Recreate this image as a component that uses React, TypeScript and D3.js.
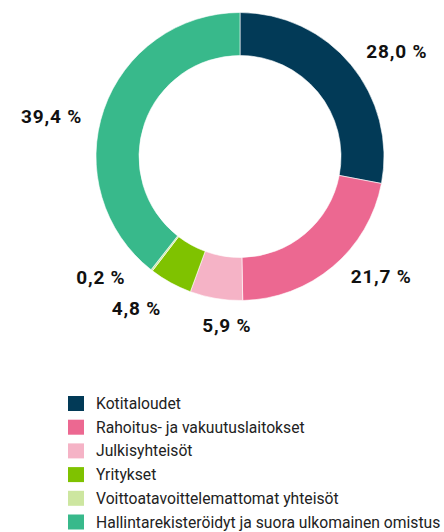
import React from "react";
import * as d3 from "d3";

const categories = [
  "Kotitaloudet",
  "Rahoitus- ja vakuutuslaitokset",
  "Julkisyhteisöt",
  "Yritykset",
  "Voittoatavoittelemattomat yhteisöt",
  "Hallintarekisteröidyt ja suora ulkomainen omistus",
];
const values = [28.0, 21.7, 5.9, 4.8, 0.2, 39.4];
const labels = ["28,0 %", "21,7 %", "5,9 %", "4,8 %", "0,2 %", "39,4 %"];
const colors = ["#023a57", "#ec6891", "#f5b3c6", "#7fc200", "#cde6a0", "#38b98b"];

// label layout nudges (positioning only)
const labelAnchor = ["start", "start", "middle", "end", "end", "end"];
const labelNudge: [number, number][] = [
  [0, 0],
  [5, -5],
  [14, 7],
  [0, 8],
  [-14, -9],
  [-3, 14],
];

const W = 444;
const H = 532;
const cx = 240;
const cy = 156.5;
const rOuter = 144;
const rInner = 101;
const rLabel = 164;

export default function App() {
  const pie = d3.pie<number>().sort(null).value((d) => d)(values);
  const arc = d3.arc<d3.PieArcDatum<number>>().innerRadius(rInner).outerRadius(rOuter);
  const font = "Roboto, 'Open Sans', sans-serif";
  const legendY0 = 403.5;
  const legendStep = 23.7;
  return (
    <svg
      width={W}
      height={H}
      style={{ position: "absolute", left: 0, top: 0, background: "#fff" }}
    >
      <g transform={`translate(${cx},${cy})`}>
        {pie.map((p, i) => (
          <path key={i} d={arc(p) || ""} fill={colors[i]} stroke="#fff" strokeWidth={0.6} />
        ))}
      </g>
      {pie.map((p, i) => {
        const a = (p.startAngle + p.endAngle) / 2;
        const x = cx + rLabel * Math.sin(a) + labelNudge[i][0];
        const y = cy - rLabel * Math.cos(a) + labelNudge[i][1];
        return (
          <text
            key={i}
            x={x}
            y={y}
            textAnchor={labelAnchor[i] as any}
            dominantBaseline="central"
            fontFamily={font}
            fontWeight={700}
            fontSize={19}
            letterSpacing={0.8}
            fill="#111"
          >
            {labels[i]}
          </text>
        );
      })}
      <g>
        {categories.map((c, i) => (
          <g key={c} transform={`translate(0,${legendY0 + i * legendStep})`}>
            <rect x={68} y={-7.5} width={16} height={15} fill={colors[i]} />
            <text
              x={96}
              y={0}
              dominantBaseline="central"
              fontFamily={font}
              fontSize={15.7}
              fill="#222"
            >
              {c}
            </text>
          </g>
        ))}
      </g>
    </svg>
  );
}
